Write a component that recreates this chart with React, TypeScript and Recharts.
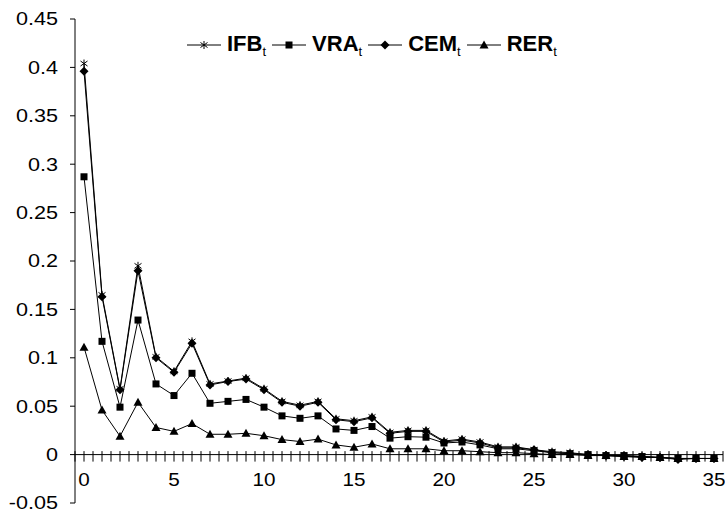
import React from 'react';
import { LineChart, Line, XAxis, YAxis, Legend, ReferenceLine } from 'recharts';

// lag values on the x axis
const lags = [0, 1, 2, 3, 4, 5, 6, 7, 8, 9, 10, 11, 12, 13, 14, 15, 16, 17, 18, 19, 20, 21, 22, 23, 24, 25, 26, 27, 28, 29, 30, 31, 32, 33, 34, 35];

const ifb = [0.404, 0.165, 0.068, 0.195, 0.101, 0.086, 0.117, 0.073, 0.076, 0.079, 0.068, 0.055, 0.051, 0.055, 0.037, 0.035, 0.039, 0.023, 0.025, 0.025, 0.014, 0.016, 0.013, 0.008, 0.008, 0.005, 0.003, 0.002, 0.0, -0.001, -0.001, -0.002, -0.003, -0.004, -0.004, -0.004];
const vra = [0.287, 0.117, 0.049, 0.139, 0.073, 0.061, 0.084, 0.053, 0.055, 0.057, 0.049, 0.04, 0.0375, 0.04, 0.0265, 0.025, 0.029, 0.017, 0.0185, 0.018, 0.012, 0.013, 0.01, 0.006, 0.006, 0.004, 0.002, 0.001, 0.0, -0.001, -0.001, -0.002, -0.003, -0.004, -0.004, -0.004];
const cem = [0.396, 0.163, 0.067, 0.19, 0.1, 0.085, 0.115, 0.072, 0.0755, 0.078, 0.067, 0.054, 0.05, 0.054, 0.036, 0.034, 0.038, 0.022, 0.024, 0.024, 0.013, 0.015, 0.012, 0.007, 0.007, 0.005, 0.002, 0.001, 0.0, -0.001, -0.002, -0.003, -0.003, -0.005, -0.004, -0.004];
const rer = [0.111, 0.046, 0.019, 0.054, 0.028, 0.024, 0.032, 0.021, 0.021, 0.022, 0.0195, 0.0155, 0.0135, 0.016, 0.01, 0.0076, 0.011, 0.006, 0.006, 0.006, 0.004, 0.004, 0.003, 0.002, 0.002, 0.001, 0.0, 0.0, -0.001, -0.001, -0.002, -0.002, -0.003, -0.004, -0.004, -0.004];

const yTicks = [-0.05, 0, 0.05, 0.1, 0.15, 0.2, 0.25, 0.3, 0.35, 0.4, 0.45];
const xLabels = [0, 5, 10, 15, 20, 25, 30, 35];

const data = lags.map((t, i) => ({ t, IFB: ifb[i], VRA: vra[i], CEM: cem[i], RER: rer[i] }));

const W = 725;
const H = 518;
const X_AXIS_H = 15;
const MARGIN = { top: 19, right: 2, bottom: 0, left: 0 };
const Y_MIN = -0.05;
const Y_MAX = 0.45;
const X_MIN = -0.5;
const X_MAX = 35.5;
const FONT = '"Liberation Sans", Arial, sans-serif';

// minor ticks every half lag
const xTicks: number[] = [];
for (let v = X_MIN; v <= X_MAX + 1e-9; v += 0.5) xTicks.push(v);

// the x axis sits on y = 0, not at the bottom of the plot
const plotH = H - MARGIN.top - MARGIN.bottom - X_AXIS_H;
const zeroOffset = (plotH * (0 - Y_MIN)) / (Y_MAX - Y_MIN);

const series = [
  { key: 'IFB', marker: 'star' },
  { key: 'VRA', marker: 'square' },
  { key: 'CEM', marker: 'diamond' },
  { key: 'RER', marker: 'triangle' },
];

function Marker({ kind, cx, cy }: { kind: string; cx: number; cy: number }) {
  if (kind === 'star') {
    return (
      <g stroke="#000" strokeWidth={1}>
        <line x1={cx} y1={cy - 4} x2={cx} y2={cy + 4} />
        <line x1={cx - 3.5} y1={cy - 2.5} x2={cx + 3.5} y2={cy + 2.5} />
        <line x1={cx - 3.5} y1={cy + 2.5} x2={cx + 3.5} y2={cy - 2.5} />
      </g>
    );
  }
  if (kind === 'square') {
    return <rect x={cx - 3.5} y={cy - 3.5} width={7} height={7} fill="#000" />;
  }
  if (kind === 'diamond') {
    return <polygon points={`${cx},${cy - 4.5} ${cx + 4.5},${cy} ${cx},${cy + 4.5} ${cx - 4.5},${cy}`} fill="#000" />;
  }
  return <polygon points={`${cx},${cy - 4.5} ${cx + 4.5},${cy + 3.5} ${cx - 4.5},${cy + 3.5}`} fill="#000" />;
}

const XTick = (props: any) => {
  const { x, y, payload } = props;
  const zy = y - zeroOffset;
  const v = payload.value;
  const show = xLabels.some((l) => Math.abs(l - v) < 1e-6);
  return (
    <g>
      <line x1={x} y1={zy - 3.5} x2={x} y2={zy + 7} stroke="#000" strokeWidth={1} />
      {show && (
        <text
          transform={`translate(${x} ${zy + 31}) scale(1.15 1)`}
          textAnchor="middle"
          fontFamily={FONT}
          fontSize={18}
          fill="#000"
        >
          {v}
        </text>
      )}
    </g>
  );
};

const YTick = (props: any) => {
  const { x, y, payload } = props;
  return (
    <text
      transform={`translate(${x} ${y}) scale(1.2 1)`}
      textAnchor="end"
      dominantBaseline="central"
      fontFamily={FONT}
      fontSize={18}
      fill="#000"
    >
      {String(+Number(payload.value).toFixed(2))}
    </text>
  );
};

const renderLegend = () => (
  <div style={{ display: 'flex', alignItems: 'center', fontFamily: FONT, fontWeight: 'bold', fontSize: 22, color: '#000', whiteSpace: 'nowrap' }}>
    {series.map((s) => (
      <span key={s.key} style={{ display: 'flex', alignItems: 'center', marginRight: 6 }}>
        <svg width={34} height={14} style={{ overflow: 'visible' }}>
          <line x1={0} y1={7} x2={34} y2={7} stroke="#000" strokeWidth={1} />
          <Marker kind={s.marker} cx={17} cy={7} />
        </svg>
        <span style={{ marginLeft: 6, color: '#000' }}>
          {s.key}
          <sub style={{ fontSize: 13, fontWeight: 'normal', color: '#000' }}>t</sub>
        </span>
      </span>
    ))}
  </div>
);

export default function App() {
  return (
    <div style={{ position: 'absolute', left: 0, top: 0, background: '#fff' }}>
      <LineChart width={W} height={H} data={data} margin={MARGIN}>
        <XAxis
          dataKey="t"
          type="number"
          domain={[X_MIN, X_MAX]}
          ticks={xTicks}
          interval={0}
          height={X_AXIS_H}
          axisLine={false}
          tickLine={false}
          tickSize={0}
          tickMargin={0}
          tick={<XTick />}
        />
        <YAxis
          type="number"
          domain={[Y_MIN, Y_MAX]}
          ticks={yTicks}
          interval={0}
          width={75}
          axisLine={{ stroke: '#000' }}
          tickLine={{ stroke: '#000' }}
          tickSize={5}
          tickMargin={12}
          tick={<YTick />}
        />
        <ReferenceLine y={0} stroke="#000" strokeWidth={1} />
        <Legend
          verticalAlign="middle"
          align="center"
          wrapperStyle={{ top: 31, left: 187, width: 'auto', height: 'auto' }}
          content={renderLegend}
        />
        {series.map((s) => (
          <Line
            key={s.key}
            dataKey={s.key}
            type="linear"
            stroke="#000"
            strokeWidth={1}
            isAnimationActive={false}
            dot={(p: any) => <Marker key={`${s.key}-${p.index}`} kind={s.marker} cx={p.cx} cy={p.cy} />}
            activeDot={false}
          />
        ))}
      </LineChart>
    </div>
  );
}
